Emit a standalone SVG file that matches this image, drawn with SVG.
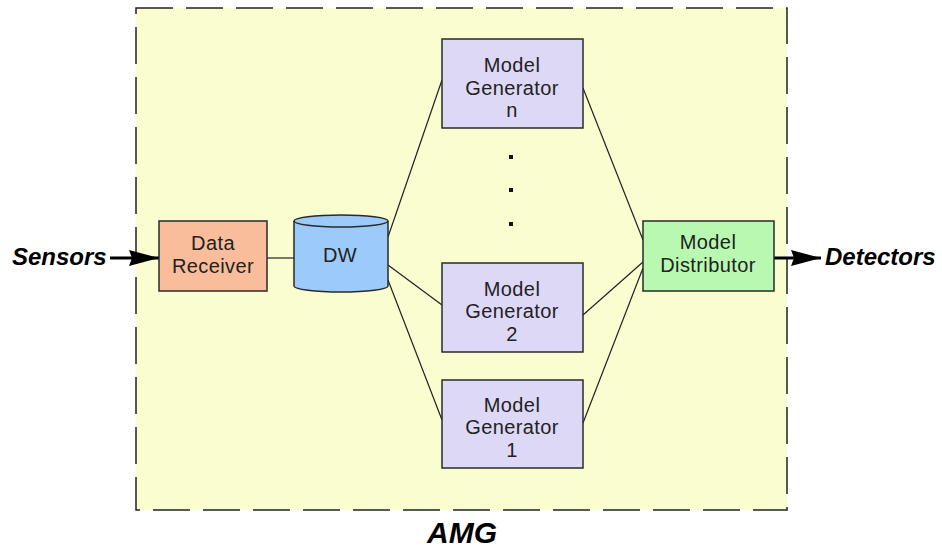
<svg xmlns="http://www.w3.org/2000/svg" width="942" height="551" viewBox="0 0 942 551">
<defs>
<style>
.box{stroke:#2a2a2a;stroke-width:1.5}
.t{font-family:"Liberation Sans",Arial,sans-serif;font-size:20px;fill:#222;text-anchor:middle;letter-spacing:0.4px}
.lbl{font-family:"Liberation Sans",Arial,sans-serif;font-weight:bold;font-style:italic;fill:#000}
.ln{stroke:#222;stroke-width:1.2;fill:none}
</style>
<marker id="ah" markerWidth="32" markerHeight="18" refX="30" refY="9" orient="auto" markerUnits="userSpaceOnUse">
<path d="M0,1 L30,9 L0,17 L3,9 Z" fill="#000"/>
</marker>
</defs>
<rect width="942" height="551" fill="#fff"/>
<g id="amg">
<rect x="136" y="8" width="651" height="502" fill="#fafdd0" stroke="#222" stroke-width="1.5" stroke-dasharray="37 13"/>
<text class="lbl" x="462" y="543" font-size="30" text-anchor="middle">AMG</text>
</g>
<g id="connectors">
<line x1="110" y1="258" x2="159" y2="258" stroke="#000" stroke-width="3" marker-end="url(#ah)"/>
<line x1="774" y1="258" x2="821" y2="258" stroke="#000" stroke-width="3" marker-end="url(#ah)"/>
<line class="ln" x1="267" y1="258" x2="294" y2="258"/>
<line class="ln" x1="388" y1="237" x2="442" y2="80"/>
<line class="ln" x1="388" y1="265" x2="442" y2="305"/>
<line class="ln" x1="388" y1="280" x2="442" y2="420"/>
<line class="ln" x1="583" y1="88" x2="643" y2="240"/>
<line class="ln" x1="583" y1="315" x2="643" y2="262"/>
<line class="ln" x1="583" y1="423" x2="643" y2="268"/>
</g>
<g id="sensors"><text class="lbl" x="12" y="265" font-size="24">Sensors</text></g>
<g id="detectors"><text class="lbl" x="825" y="265" font-size="24">Detectors</text></g>
<g id="data-receiver">
<rect class="box" x="159" y="221" width="108" height="70" fill="#f9bd9b"/>
<text class="t" x="213" y="250">Data</text>
<text class="t" x="213" y="273">Receiver</text>
</g>
<g id="dw">
<path class="box" d="M294,221 L294,286 A47,6 0 0 0 388,286 L388,221 A47,6 0 0 0 294,221 Z" fill="#9ccbfb"/>
<path class="box" d="M294,221 A47,6 0 0 0 388,221" fill="none"/>
<text class="t" x="340" y="262">DW</text>
</g>
<g id="mg-n">
<rect class="box" x="442" y="39" width="141" height="89" fill="#ded8f7"/>
<text class="t" x="512" y="72">Model</text>
<text class="t" x="512" y="95">Generator</text>
<text class="t" x="512" y="117">n</text>
</g>
<g id="dots" fill="#111">
<rect x="509" y="155" width="4" height="4"/>
<rect x="509" y="188" width="4" height="4"/>
<rect x="509" y="222" width="4" height="4"/>
</g>
<g id="mg-2">
<rect class="box" x="442" y="263" width="141" height="89" fill="#ded8f7"/>
<text class="t" x="512" y="296">Model</text>
<text class="t" x="512" y="318">Generator</text>
<text class="t" x="512" y="341">2</text>
</g>
<g id="mg-1">
<rect class="box" x="442" y="380" width="141" height="88" fill="#ded8f7"/>
<text class="t" x="512" y="412">Model</text>
<text class="t" x="512" y="434">Generator</text>
<text class="t" x="512" y="457">1</text>
</g>
<g id="model-distributor">
<rect class="box" x="643" y="221" width="131" height="70" fill="#b9f8b1"/>
<text class="t" x="708" y="249">Model</text>
<text class="t" x="708" y="272">Distributor</text>
</g>
</svg>
